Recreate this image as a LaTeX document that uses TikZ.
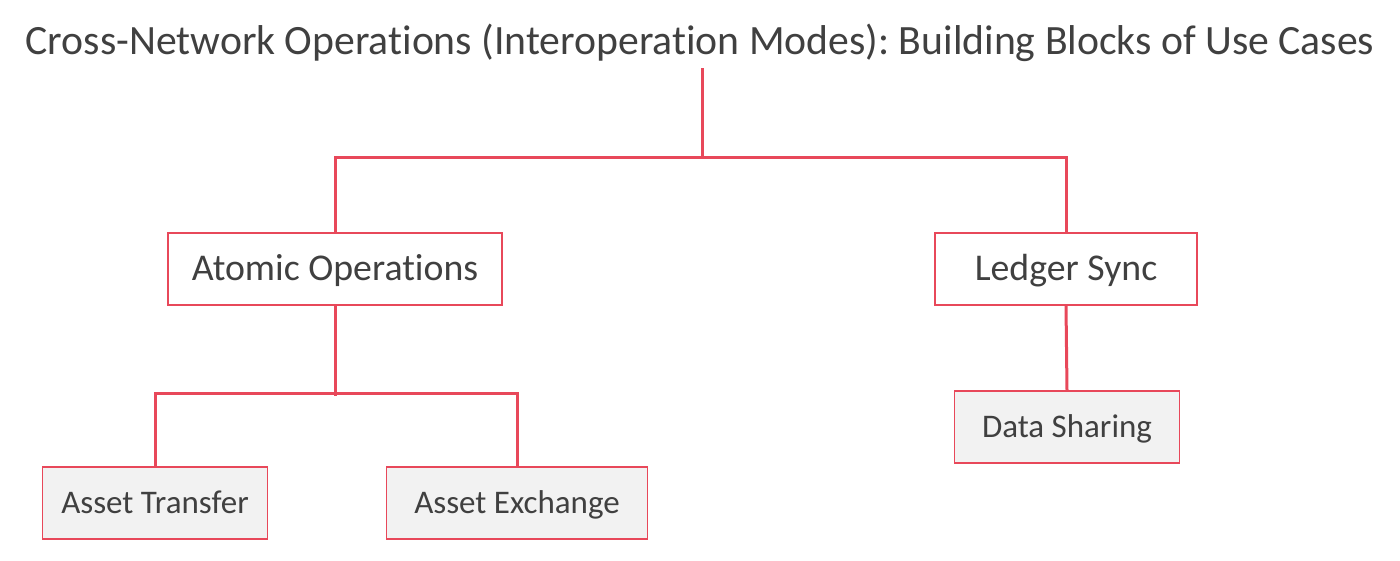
\documentclass[tikz,border=0pt]{standalone}
\usepackage{fontspec}
\setmainfont{Carlito}[Ligatures=NoCommon]
\usepackage{xcolor}
\usetikzlibrary{positioning,calc}
\frenchspacing

\definecolor{linkred}{HTML}{E8485A}
\definecolor{boxgray}{HTML}{F2F2F2}
\definecolor{textgray}{HTML}{404040}

\begin{document}
\begin{tikzpicture}[
    x=1pt, y=-1pt,
    mode/.style={rectangle, draw=linkred, line width=1.2pt, fill=white, minimum width=334pt, minimum height=72pt, text height=30pt, text depth=8pt, align=center, text=textgray, font=\fontsize{37.8}{42}\selectfont},
    usecase/.style={rectangle, draw=linkred, line width=1.2pt, fill=boxgray, minimum width=225pt, minimum height=72pt, text height=27pt, text depth=7pt, align=center, text=textgray, font=\fontsize{33}{37}\selectfont},
    link/.style={draw=linkred, line width=3pt},
]
    \useasboundingbox (0,0) rectangle (1400,560);

    % Title
    \node[text=textgray, font=\fontsize{41.7}{46}\selectfont] (title) at (700,43) {Cross-Network Operations (Interoperation Modes): Building Blocks of Use Cases};

    % Modes
    \node[mode] (atomic) at (335,269) {Atomic Operations};
    \node[mode, minimum width=262pt] (ledger) at (1066,269) {Ledger Sync};

    % Use cases
    \node[usecase] (transfer) at (155,503) {Asset Transfer};
    \node[usecase, minimum width=261pt] (exchange) at (517,503) {Asset Exchange};
    \node[usecase] (sharing) at (1067,427) {Data Sharing};

    % Junctions
    \coordinate (top) at (702,68);
    \coordinate (topbar) at (702,157);
    \coordinate (atombar) at (335,396);

    % Connectors
    \draw[link] (top) -- (topbar);
    \draw[link] (atomic.north) |- (topbar) -| (ledger.north);
    \draw[link] (atomic.south) -- (atombar);
    \draw[link] (transfer.north) |- (335,393) -| (exchange.north);
    \draw[link] (ledger.south) -- (sharing.north);
\end{tikzpicture}
\end{document}
